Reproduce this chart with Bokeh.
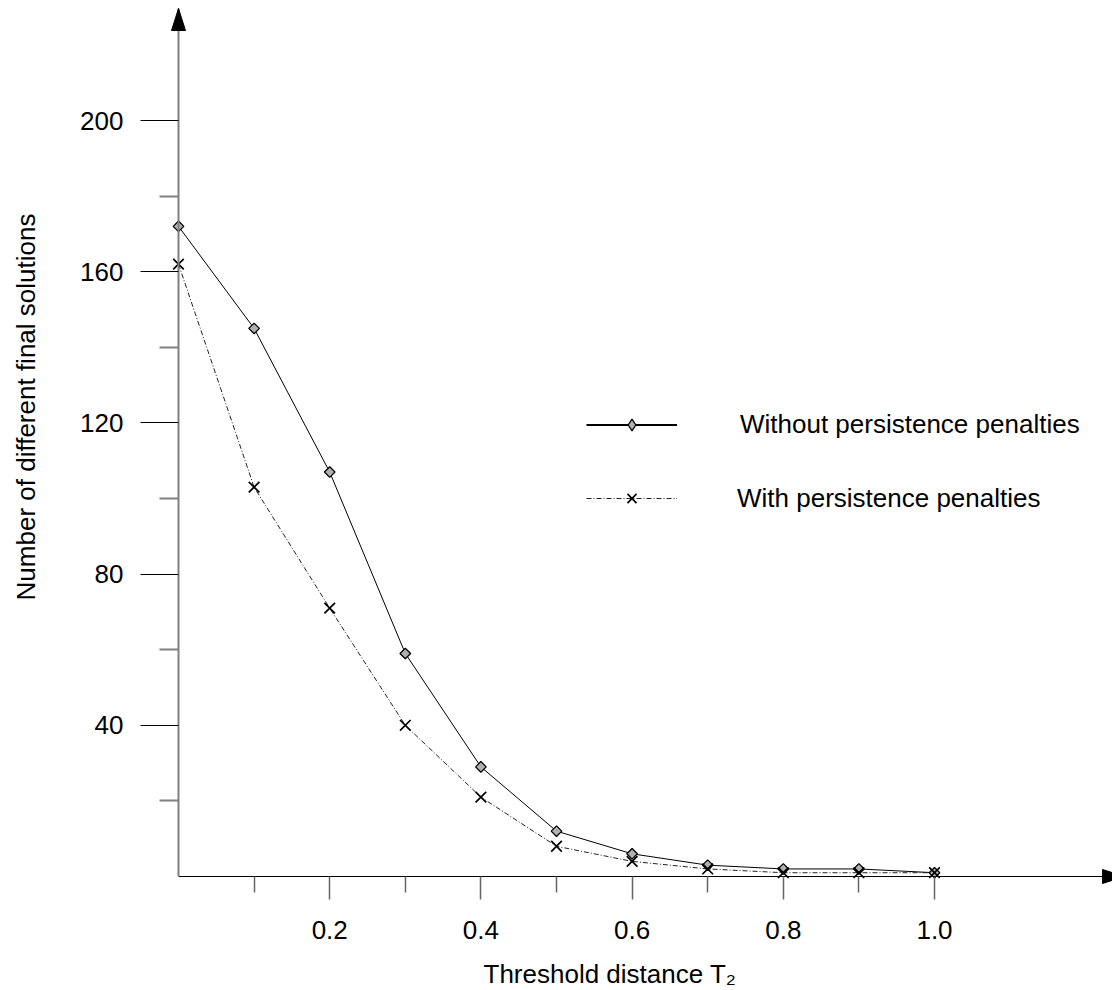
import math
from bokeh.plotting import figure
from bokeh.models import (Range1d, FixedTicker, PrintfTickFormatter, Legend, LegendItem,
                          Label, PolyAnnotation, ColumnDataSource)
from bokeh.embed import file_html
from bokeh.resources import INLINE

# ---------------- data ----------------
threshold = [0.0, 0.1, 0.2, 0.3, 0.4, 0.5, 0.6, 0.7, 0.8, 0.9, 1.0]
without_penalties = [172, 145, 107, 59, 29, 12, 6, 3, 2, 2, 1]
with_penalties = [162, 103, 71, 40, 21, 8, 4, 2, 1, 1, 1]
x_major_ticks = [0.2, 0.4, 0.6, 0.8, 1.0]
x_minor_ticks = [0.1, 0.3, 0.5, 0.7, 0.9]
y_major_ticks = [40, 80, 120, 160, 200]
y_minor_ticks = [20, 60, 100, 140, 180]
series_labels = ["Without persistence penalties", "With persistence penalties"]
x_title = "Threshold distance T\u2082"
y_title = "Number of different final solutions"

# ---------------- layout ----------------
FONT = "Liberation Sans"
FS = "26px"
W, H = 1112, 990
ORIGIN_X, ORIGIN_Y = 178, 876     # canvas pixel of the (0, 0) corner of the axes
PX_X = 756.0                      # pixels per x unit
PX_Y = 3.78                       # pixels per y unit
X_START, X_END = -ORIGIN_X / PX_X, (W - ORIGIN_X) / PX_X
Y_START, Y_END = -(H - ORIGIN_Y) / PX_Y, ORIGIN_Y / PX_Y
Y_TIP = (ORIGIN_Y - 8) / PX_Y               # top of the y axis arrow
X_ARROW_BASE = (1102 - ORIGIN_X) / PX_X     # base of the x axis arrow

p = figure(width=W, height=H, x_range=Range1d(X_START, X_END), y_range=Range1d(Y_START, Y_END),
           output_backend="svg", toolbar_location=None, min_border=0)
p.xgrid.visible = False
p.ygrid.visible = False
p.outline_line_color = None
p.background_fill_color = "white"
p.border_fill_color = "white"

# axes (drawn at the data origin)
xa = p.xaxis[0]
xa.fixed_location = 0
xa.bounds = (0, X_END)
xa.ticker = FixedTicker(ticks=x_major_ticks, minor_ticks=x_minor_ticks)
xa.formatter = PrintfTickFormatter(format="%.1f")
xa.axis_line_color = "black"
xa.axis_line_width = 1
xa.major_tick_in = 0
xa.major_tick_out = 23
xa.minor_tick_in = 0
xa.minor_tick_out = 16
xa.major_tick_line_color = "#666666"
xa.major_tick_line_width = 1.5
xa.minor_tick_line_color = "#666666"
xa.minor_tick_line_width = 1.5
xa.major_label_standoff = 21

ya = p.yaxis[0]
ya.fixed_location = 0
ya.bounds = (0, Y_TIP)
ya.ticker = FixedTicker(ticks=y_major_ticks, minor_ticks=y_minor_ticks)
ya.axis_line_color = "#808080"
ya.axis_line_width = 2
ya.major_tick_in = 0
ya.major_tick_out = 38
ya.minor_tick_in = 0
ya.minor_tick_out = 19
ya.major_tick_line_color = "black"
ya.major_tick_line_width = 1
ya.minor_tick_line_color = "#808080"
ya.minor_tick_line_width = 2
ya.major_label_standoff = 17

for ax in (xa, ya):
    ax.major_label_text_font = FONT
    ax.major_label_text_font_size = FS
    ax.major_label_text_color = "black"

# series
src = ColumnDataSource(dict(x=threshold, a=without_penalties, b=with_penalties))
l1 = p.line("x", "a", source=src, line_color="black", line_width=1)
l2 = p.line("x", "b", source=src, line_color="#222222", line_width=1, line_dash="5 2 1 2")
s1 = p.scatter("x", "a", source=src, marker="square", angle=math.pi / 4, size=7.5,
               fill_color="#b0b0b0", line_color="black", line_width=1.3)
s2 = p.scatter("x", "b", source=src, marker="x", size=15,
               line_color="black", line_width=1.7)

# hidden renderers that only style the legend sample of the first series
leg_line1 = p.line("x", "a", source=src, line_color="black", line_width=2, visible=False)
leg_mark1 = p.scatter("x", "a", source=src, marker="diamond", fill_color="#b0b0b0",
                      line_color="black", line_width=1.3, visible=False)

common = dict(padding=0, margin=0, spacing=0, border_line_alpha=0, background_fill_alpha=0,
              inactive_fill_alpha=0,
              label_text_font=FONT, label_text_font_size=FS, label_text_color="black",
              glyph_width=91, label_height=20)
leg1 = Legend(items=[LegendItem(label=series_labels[0], renderers=[leg_line1, leg_mark1])],
              location=(586, 550), glyph_height=29, label_standoff=63, **common)
leg2 = Legend(items=[LegendItem(label=series_labels[1], renderers=[l2, s2])],
              location=(586, 476), glyph_height=32, label_standoff=60, **common)
p.add_layout(leg1)
p.add_layout(leg2)

# axis titles
p.add_layout(Label(x=25.3, y=H - 406.5, x_units="screen", y_units="screen", text=y_title,
                   angle=math.pi / 2, text_align="center", text_baseline="middle",
                   text_font=FONT, text_font_size=FS, text_color="black"))
p.add_layout(Label(x=483, y=H - 973.5, x_units="screen", y_units="screen", text=x_title,
                   text_align="left", text_baseline="middle",
                   text_font=FONT, text_font_size=FS, text_color="black"))

# arrow heads at ends of axes
p.add_layout(PolyAnnotation(xs=[0, 7 / PX_X, -7 / PX_X],
                            ys=[Y_TIP, Y_TIP - 22 / PX_Y, Y_TIP - 22 / PX_Y],
                            fill_color="black", fill_alpha=1, line_color="black", line_alpha=1))
p.add_layout(PolyAnnotation(xs=[X_ARROW_BASE + 22 / PX_X, X_ARROW_BASE, X_ARROW_BASE],
                            ys=[0, 7 / PX_Y, -7 / PX_Y],
                            fill_color="black", fill_alpha=1, line_color="black", line_alpha=1))

open("out.html", "w").write(file_html(p, INLINE))
